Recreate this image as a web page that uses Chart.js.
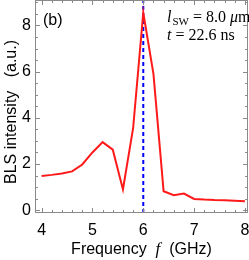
<!DOCTYPE html>
<html>
<head>
<meta charset="utf-8">
<script src="https://cdn.jsdelivr.net/npm/chart.js"></script>
<style>
  html, body { margin: 0; padding: 0; background: #fff; }
  #wrap { width: 249px; height: 260px; }
</style>
</head>
<body>
<div id="wrap"><canvas id="blsChart" width="249" height="260"></canvas></div>
<script>
// Daten
const freqs = [4.0, 4.2, 4.4, 4.6, 4.8, 5.0, 5.2, 5.4, 5.6, 5.8, 6.0, 6.2, 6.4, 6.6, 6.8, 7.0, 7.2, 7.4, 7.6, 7.8, 8.0];
const intensity = [1.48, 1.53, 1.59, 1.68, 1.98, 2.5, 2.95, 2.62, 0.9, 3.55, 8.55, 5.9, 0.82, 0.65, 0.72, 0.49, 0.46, 0.44, 0.43, 0.41, 0.39];
const markerFreq = 6.0;
const xTicks = [4, 5, 6, 7, 8];
const yTicks = [0, 2, 4, 6, 8];
const xMinorStep = 0.2;
const yMinorStep = 0.5;

const xMin = 3.87, xMax = 8.06, yMin = -0.12, yMax = 9.1;

const sansFont = '"Liberation Sans", Arial, sans-serif';
const serifFont = '"Liberation Serif", "Times New Roman", serif';

// Scale-Paddings entfernen, damit der Plotbereich fest bleibt
function noPad(s) {
  s.paddingLeft = 0; s.paddingRight = 0; s.paddingTop = 0; s.paddingBottom = 0;
}

// Rahmen, Ticks nach innen und Beschriftungen
const framePlugin = {
  id: 'framePlugin',
  afterDraw(chart) {
    const ctx = chart.ctx;
    const a = chart.chartArea;
    const xs = chart.scales.x, ys = chart.scales.y;
    ctx.save();
    ctx.strokeStyle = '#8a8a8a';
    ctx.lineWidth = 1;
    ctx.strokeRect(a.left + 0.5, a.top + 0.5, a.right - a.left - 1, a.bottom - a.top - 1);

    ctx.beginPath();
    for (let v = 4; v <= 8.001; v += xMinorStep) {
      const px = Math.round(xs.getPixelForValue(v)) + 0.5;
      const major = Math.abs(v - Math.round(v)) < 0.01;
      const len = major ? 5 : 3;
      ctx.moveTo(px, a.bottom); ctx.lineTo(px, a.bottom - len);
      ctx.moveTo(px, a.top); ctx.lineTo(px, a.top + len);
    }
    for (let v = 0; v <= 9.001; v += yMinorStep) {
      const py = Math.round(ys.getPixelForValue(v)) + 0.5;
      const major = Math.abs(v / 2 - Math.round(v / 2)) < 0.01;
      const len = major ? 5 : 3;
      ctx.moveTo(a.left, py); ctx.lineTo(a.left + len, py);
      ctx.moveTo(a.right, py); ctx.lineTo(a.right - len, py);
    }
    ctx.stroke();

    // Beschriftungen im Diagramm
    ctx.fillStyle = '#000';
    ctx.textBaseline = 'alphabetic';
    ctx.font = '16px ' + sansFont;
    ctx.fillText('(b)', 43, 25);

    let x = 167;
    ctx.font = 'italic 16px ' + serifFont;
    ctx.fillText('l', x, 22); x += ctx.measureText('l').width + 1;
    ctx.font = '11px ' + serifFont;
    ctx.fillText('SW', x, 25); x += ctx.measureText('SW').width;
    ctx.font = '16px ' + serifFont;
    ctx.fillText(' = 8.0 ', x, 22); x += ctx.measureText(' = 8.0 ').width;
    ctx.font = 'italic 16px ' + serifFont;
    ctx.fillText('\u03bc', x, 22); x += ctx.measureText('\u03bc').width;
    ctx.font = '16px ' + serifFont;
    ctx.fillText('m', x, 22);

    x = 167;
    ctx.font = 'italic 16px ' + serifFont;
    ctx.fillText('t', x, 40); x += ctx.measureText('t').width;
    ctx.font = '16px ' + serifFont;
    ctx.fillText(' = 22.6 ns', x, 40);

    // x-Achsentitel
    const parts = [
      ['Frequency  ', '16px ' + sansFont],
      ['f', 'italic 17px ' + serifFont],
      ['  (GHz)', '16px ' + sansFont]
    ];
    let total = 0;
    parts.forEach(p => { ctx.font = p[1]; total += ctx.measureText(p[0]).width; });
    x = (a.left + a.right) / 2 - total / 2;
    parts.forEach(p => { ctx.font = p[1]; ctx.fillText(p[0], x, 254); x += ctx.measureText(p[0]).width; });

    // y-Achsentitel
    ctx.translate(16, 112);
    ctx.rotate(-Math.PI / 2);
    ctx.font = '16px ' + sansFont;
    ctx.textAlign = 'center';
    ctx.fillText('BLS intensity   (a.u.)', 0, 0);
    ctx.restore();
  }
};

document.addEventListener('DOMContentLoaded', () => {
  const ctx = document.getElementById('blsChart').getContext('2d');
  new Chart(ctx, {
    type: 'line',
    data: {
      datasets: [
        {
          label: 'BLS',
          data: freqs.map((f, i) => ({ x: f, y: intensity[i] })),
          borderColor: '#ff1a1a',
          borderWidth: 2,
          pointRadius: 0,
          fill: false,
          tension: 0
        },
        {
          label: 'marker',
          data: [{ x: markerFreq, y: yMin }, { x: markerFreq, y: yMax }],
          borderColor: '#0000ff',
          borderWidth: 2,
          borderDash: [4, 3],
          pointRadius: 0,
          fill: false
        }
      ]
    },
    options: {
      responsive: false,
      animation: false,
      layout: { padding: { top: 0, right: 1, left: 0, bottom: 0 } },
      plugins: { legend: { display: false }, tooltip: { enabled: false } },
      scales: {
        x: {
          type: 'linear',
          min: xMin, max: xMax,
          afterBuildTicks: s => { s.ticks = xTicks.map(v => ({ value: v })); },
          afterFit: s => { s.height = 47; noPad(s); },
          grid: { display: false, drawTicks: false },
          border: { display: false },
          ticks: { color: '#000', padding: 8, font: { family: sansFont, size: 16 }, maxRotation: 0 }
        },
        y: {
          min: yMin, max: yMax,
          afterBuildTicks: s => { s.ticks = yTicks.map(v => ({ value: v })); },
          afterFit: s => { s.width = 35; noPad(s); },
          grid: { display: false, drawTicks: false },
          border: { display: false },
          ticks: { color: '#000', padding: 4, font: { family: sansFont, size: 16 } }
        }
      }
    },
    plugins: [framePlugin]
  });
});
</script>
</body>
</html>
